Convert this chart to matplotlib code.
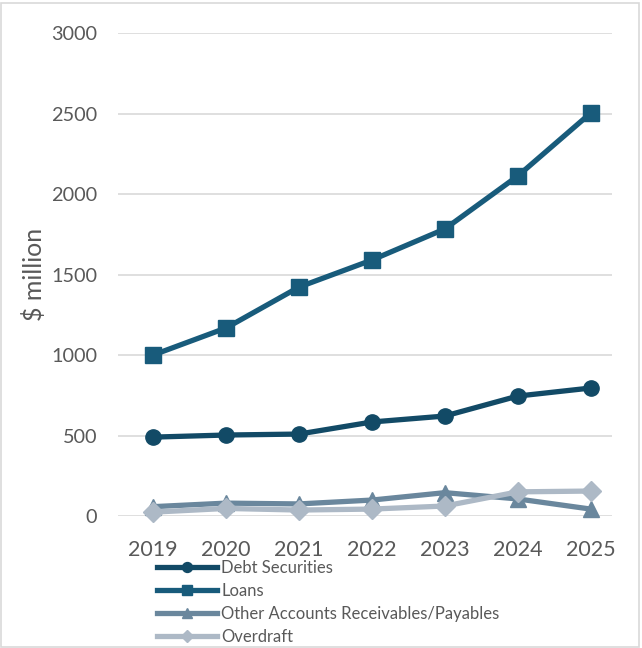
import matplotlib
matplotlib.use("Agg")
import matplotlib.pyplot as plt
import matplotlib.transforms as mtransforms
from matplotlib.patches import Rectangle

years = ["2019", "2020", "2021", "2022", "2023", "2024", "2025"]
debt_securities = [490, 503, 509, 584, 621, 745, 795]
loans = [1000, 1168, 1422, 1590, 1783, 2112, 2503]
other_accounts = [58, 80, 75, 99, 145, 106, 43]
overdraft = [24, 47, 37, 43, 62, 150, 155]

series = [
    ("Debt Securities", debt_securities, "#124a66", "o", 11),
    ("Loans", loans, "#185b7b", "s", 11),
    ("Other Accounts Receivables/Payables", other_accounts, "#6a879d", "^", 11),
    ("Overdraft", overdraft, "#adb9c6", "D", 10),
]

plt.rcParams["font.family"] = ["Lato", "DejaVu Sans"]

fig = plt.figure(figsize=(6.42, 6.48), dpi=100)
ax = fig.add_axes([0.184, 0.2037, 0.769, 0.7453])

x = list(range(len(years)))
for label, vals, color, marker, ms in series:
    ax.plot(x, vals, color=color, lw=3.8, marker=marker, markersize=ms,
            label=label, clip_on=False, zorder=3)

ax.set_ylim(0, 3000)
ax.set_xlim(-0.48, 6.29)
ax.set_yticks(range(0, 3001, 500))
ax.set_xticks(x)
ax.set_xticklabels(years)
ax.grid(True, axis="y", color="#d9d9d9", lw=1.2, zorder=0)
for s in ax.spines.values():
    s.set_visible(False)
ax.tick_params(length=0, colors="#595959")
ax.tick_params(axis="x", labelsize=15.5, pad=17)
ax.tick_params(axis="y", labelsize=14.3, pad=15)

# y label pinned a fixed distance from the figure edge
ax.set_ylabel("$ million", fontsize=18, color="#595959")
ax.yaxis.label.set_transform(mtransforms.blended_transform_factory(
    mtransforms.IdentityTransform(), ax.transAxes))
ax.yaxis.label.set_position((38, 0.5))

fig.legend(loc="upper left", bbox_to_anchor=(0.2445, 0.136), frameon=False,
           fontsize=12, handlelength=3.6, handletextpad=0.25, labelspacing=0.42,
           markerscale=0.65, labelcolor="#595959", borderaxespad=0, borderpad=0)

fig.patches.append(Rectangle((0.002, 0.002), 0.994, 0.994, transform=fig.transFigure,
                             fill=False, edgecolor="#d9d9d9", lw=1.2))

fig.savefig("out.png", dpi=100)
